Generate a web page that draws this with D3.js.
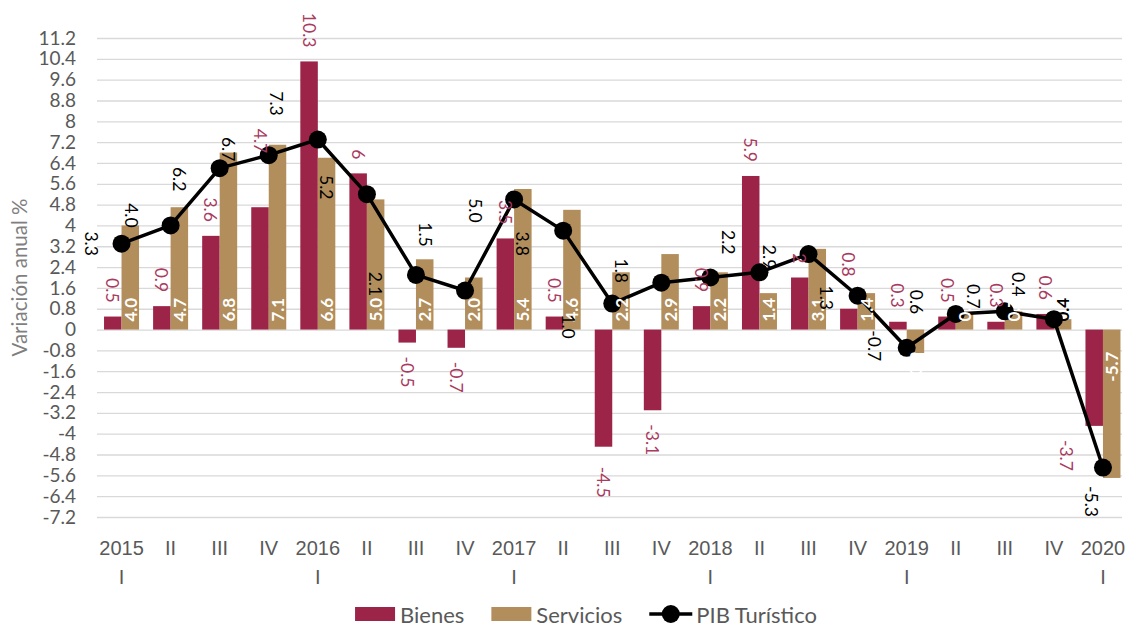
<!DOCTYPE html>
<html><head><meta charset="utf-8">
<script src="https://cdn.jsdelivr.net/npm/d3@7"></script>
<style>
html,body{margin:0;padding:0;background:#fff;}
svg{display:block;font-family:Lato,"Noto Sans",sans-serif;}
</style>
</head><body>
<svg id="chart" width="1126" height="628"></svg>
<script>
// ---------- DATA ----------
const periods = ["2015-I","2015-II","2015-III","2015-IV","2016-I","2016-II","2016-III","2016-IV",
  "2017-I","2017-II","2017-III","2017-IV","2018-I","2018-II","2018-III","2018-IV",
  "2019-I","2019-II","2019-III","2019-IV","2020-I"];
const tickTop = ["2015","II","III","IV","2016","II","III","IV","2017","II","III","IV",
  "2018","II","III","IV","2019","II","III","IV","2020"];
const tickBottom = ["I","","","","I","","","","I","","","","I","","","","I","","","","I"];
const bienes = [0.5,0.9,3.6,4.7,10.3,6,-0.5,-0.7,3.5,0.5,-4.5,-3.1,0.9,5.9,2,0.8,0.3,0.5,0.3,0.6,-3.7];
const servicios = [4.0,4.7,6.8,7.1,6.6,5.0,2.7,2.0,5.4,4.6,2.2,2.9,2.2,1.4,3.1,1.4,-0.9,0.6,0.7,0.4,-5.7];
const pibTuristico = [3.3,4.0,6.2,6.7,7.3,5.2,2.1,1.5,5.0,3.8,1.0,1.8,2.0,2.2,2.9,1.3,-0.7,0.6,0.7,0.4,-5.3];
const yTicks = [-7.2,-6.4,-5.6,-4.8,-4,-3.2,-2.4,-1.6,-0.8,0,0.8,1.6,2.4,3.2,4,4.8,5.6,6.4,7.2,8,8.8,9.6,10.4,11.2];
const seriesNames = ["Bienes","Servicios","PIB Turístico"];
const yTitle = "Variación anual %";
const hiddenPibLabels = ["2018-I"];

// ---------- LAYOUT / STYLE ----------
const colBienes = "#9D2449", colServ = "#B38E5D", colBienesLbl = "#A93A60";
const plot = {left:97, right:1127.5, top:38, bottom:517};
// label nudges (pixels) for the PIB line labels, as placed in the original
const pibLabelNudge = [[-30,0],[-39,-10],[-40,11],[-40,-6],[-41,-36],[-40,-7],[-40,9],[-40,-56],
  [-39,11],[-41,13],[-44,23],[-40,-12],[-40,0],[-31,-30],[-39,3],[-31,2],[-32,-2],[-39,-12],
  [-31,-15],[-35,-35],[-11,34]];
const bienesLabelNudge = {"2015-IV":[0,-40], "2018-IV":[0,-18], "2017-III":[0,6], "2020-I":[-28,0]};

const svg = d3.select("#chart");
const x = d3.scaleBand().domain(periods).range([plot.left, plot.right]);
const inner = d3.scaleBand().domain(["Bienes","Servicios"]).range([0, 35]);
const y = d3.scaleLinear().domain([-7.2, 11.2]).range([plot.bottom, plot.top]);
const cx = p => x(p) + x.bandwidth()/2;

// gridlines
const grid = svg.append("g").attr("transform",`translate(${plot.left},0)`)
  .call(d3.axisLeft(y).tickValues(yTicks).tickSize(-(1122-plot.left)).tickFormat(""));
grid.select(".domain").remove();
grid.selectAll("line").attr("stroke","#D9D9D9").attr("stroke-width",1.3);

// y labels
const yAx = svg.append("g").attr("transform",`translate(${plot.left},0)`)
  .call(d3.axisLeft(y).tickValues(yTicks).tickSize(0).tickPadding(21).tickFormat(d => String(d)));
yAx.select(".domain").remove();
yAx.selectAll("text").attr("fill","#595959").style("font-size","19px").style("font-family","Lato");

// y title
svg.append("text").attr("transform",`translate(19,${(plot.top+plot.bottom)/2}) rotate(-90)`)
  .attr("text-anchor","middle").attr("dominant-baseline","central")
  .attr("fill","#7F7F7F").style("font-size","20.5px").text(yTitle);

// x labels
const xAx = svg.append("g").attr("transform",`translate(0,548)`)
  .call(d3.axisBottom(x).tickSize(0).tickFormat(""));
xAx.select(".domain").remove();
xAx.selectAll(".tick").each(function(d,i){
  const t = d3.select(this).append("text").attr("fill","#595959").attr("text-anchor","middle")
    .style("font-size","20px");
  t.append("tspan").attr("x",0).attr("y",0).attr("dy","0.35em").text(tickTop[i]);
  if (tickBottom[i]) t.append("tspan").attr("x",0).attr("y",29).attr("dy","0.35em").text(tickBottom[i]);
});

// bars
const barData = periods.map((p,i)=>({p, b:bienes[i], s:servicios[i], l:pibTuristico[i]}));
svg.append("g").selectAll("rect").data(barData).join("rect")
  .attr("x", d => cx(d.p) - 17.5 + inner("Bienes"))
  .attr("width", inner.bandwidth())
  .attr("y", d => y(Math.max(0,d.b)))
  .attr("height", d => Math.abs(y(d.b)-y(0)))
  .attr("fill", colBienes);
svg.append("g").selectAll("rect").data(barData).join("rect")
  .attr("x", d => cx(d.p) - 17.5 + inner("Servicios"))
  .attr("width", inner.bandwidth())
  .attr("y", d => y(Math.max(0,d.s)))
  .attr("height", d => Math.abs(y(d.s)-y(0)))
  .attr("fill", colServ);

// line
const line = d3.line().x(d => cx(d.p)).y(d => y(d.l));
svg.append("path").datum(barData).attr("d", line).attr("fill","none")
  .attr("stroke","#000").attr("stroke-width",3.5).attr("stroke-linejoin","round");
svg.append("g").selectAll("circle").data(barData).join("circle")
  .attr("cx", d => cx(d.p)).attr("cy", d => y(d.l)).attr("r", 9).attr("fill","#000");

// labels: bienes (rotated 90, outside end)
svg.append("g").selectAll("text").data(barData).join("text")
  .attr("transform", d => {
    const n = bienesLabelNudge[d.p] || [0,0];
    const bx = cx(d.p) - 17.5 + inner("Bienes") + inner.bandwidth()/2 + n[0];
    const py = (d.b >= 0 ? y(d.b) - 14 : y(d.b) + 14) + n[1];
    return `translate(${bx},${py}) rotate(90)`;
  })
  .attr("text-anchor", d => d.b >= 0 ? "end" : "start")
  .attr("dominant-baseline","central")
  .attr("fill", colBienesLbl).style("font-size","17.5px")
  .text(d => String(d.b));

// labels: servicios (rotated -90, inside base)
svg.append("g").selectAll("text").data(barData).join("text")
  .attr("transform", d => {
    const bx = cx(d.p) - 17.5 + inner("Servicios") + inner.bandwidth()/2;
    const py = d.s >= 0 ? y(0) - 8 : y(0) + 22;
    return `translate(${bx},${py}) rotate(-90)`;
  })
  .attr("text-anchor", d => d.s >= 0 ? "start" : "end")
  .attr("dominant-baseline","central")
  .attr("fill", d => (d.s > 0 && d.s < 0.5) ? "#000" : "#fff")
  .style("font-size","17px").style("font-weight","bold")
  .text(d => d.s.toFixed(1));

// labels: PIB
svg.append("g").selectAll("text").data(barData.filter(d => !hiddenPibLabels.includes(d.p))).join("text")
  .attr("transform", d => {
    const i = periods.indexOf(d.p);
    return `translate(${cx(d.p)+pibLabelNudge[i][0]},${y(d.l)+pibLabelNudge[i][1]}) rotate(90)`;
  })
  .attr("text-anchor","middle").attr("dominant-baseline","central")
  .attr("fill","#000").style("font-size","17.5px")
  .text(d => d.l.toFixed(1));

// legend
const lg = svg.append("g");
let xpos = 0;
const ly = 614;
seriesNames.forEach((name,i) => {
  const g = lg.append("g").attr("transform",`translate(${xpos},0)`);
  let sw;
  if (i < 2) {
    g.append("rect").attr("x",0).attr("y",ly-7).attr("width",40).attr("height",14)
      .attr("fill", i===0 ? colBienes : colServ);
    sw = 45;
  } else {
    g.append("line").attr("x1",0).attr("x2",43).attr("y1",ly).attr("y2",ly)
      .attr("stroke","#000").attr("stroke-width",3.5);
    g.append("circle").attr("cx",21.5).attr("cy",ly).attr("r",9).attr("fill","#000");
    sw = 47;
  }
  const t = g.append("text").attr("x",sw).attr("y",ly).attr("dominant-baseline","central")
    .attr("fill","#595959").style("font-size","22px").text(name);
  xpos += sw + t.node().getComputedTextLength() + 27;
});
const lw = xpos - 27;
lg.attr("transform",`translate(${586 - lw/2},0)`);
</script>
</body></html>
